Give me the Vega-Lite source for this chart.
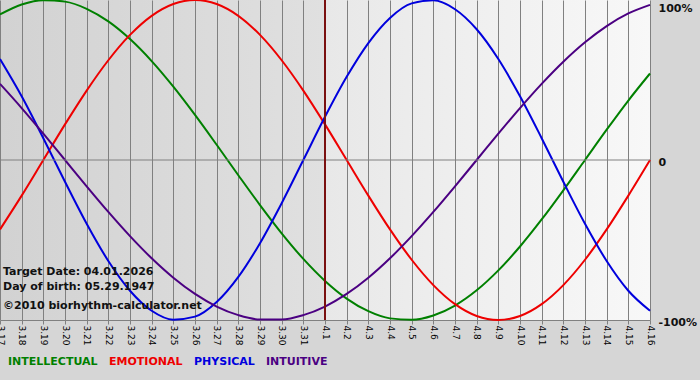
{
  "$schema": "https://vega.github.io/schema/vega-lite/v6.json",
  "width": 650,
  "height": 320,
  "autosize": {"type": "none"},
  "padding": {"left": 0, "top": 0, "right": 50, "bottom": 60},
  "background": "#d6d6d6",
  "config": {
    "font": "DejaVu Sans",
    "view": {
      "stroke": null,
      "fill": {
        "gradient": "linear",
        "x1": 0, "y1": 0, "x2": 1, "y2": 0,
        "stops": [
          {"offset": 0, "color": "#d2d2d2"},
          {"offset": 0.5, "color": "#e0e0e0"},
          {"offset": 0.5, "color": "#e8e8e8"},
          {"offset": 1, "color": "#f8f8f8"}
        ]
      }
    }
  },
  "data": {
    "values": [
      {"date": "2026-03-17", "INTELLECTUAL": 0.9096, "EMOTIONAL": -0.4339, "PHYSICAL": 0.6311, "INTUITIVE": 0.4759},
      {"date": "2026-03-18", "INTELLECTUAL": 0.9718, "EMOTIONAL": -0.2225, "PHYSICAL": 0.3984, "INTUITIVE": 0.3247},
      {"date": "2026-03-19", "INTELLECTUAL": 0.9989, "EMOTIONAL": 0, "PHYSICAL": 0.1362, "INTUITIVE": 0.1646},
      {"date": "2026-03-20", "INTELLECTUAL": 0.9898, "EMOTIONAL": 0.2225, "PHYSICAL": -0.1362, "INTUITIVE": 0},
      {"date": "2026-03-21", "INTELLECTUAL": 0.9450, "EMOTIONAL": 0.4339, "PHYSICAL": -0.3984, "INTUITIVE": -0.1646},
      {"date": "2026-03-22", "INTELLECTUAL": 0.8660, "EMOTIONAL": 0.6235, "PHYSICAL": -0.6311, "INTUITIVE": -0.3247},
      {"date": "2026-03-23", "INTELLECTUAL": 0.7557, "EMOTIONAL": 0.7818, "PHYSICAL": -0.8170, "INTUITIVE": -0.4759},
      {"date": "2026-03-24", "INTELLECTUAL": 0.6182, "EMOTIONAL": 0.9010, "PHYSICAL": -0.9423, "INTUITIVE": -0.6142},
      {"date": "2026-03-25", "INTELLECTUAL": 0.4582, "EMOTIONAL": 0.9749, "PHYSICAL": -0.9977, "INTUITIVE": -0.7357},
      {"date": "2026-03-26", "INTELLECTUAL": 0.2817, "EMOTIONAL": 1, "PHYSICAL": -0.9791, "INTUITIVE": -0.8372},
      {"date": "2026-03-27", "INTELLECTUAL": 0.0951, "EMOTIONAL": 0.9749, "PHYSICAL": -0.8880, "INTUITIVE": -0.9158},
      {"date": "2026-03-28", "INTELLECTUAL": -0.0951, "EMOTIONAL": 0.9010, "PHYSICAL": -0.7308, "INTUITIVE": -0.9694},
      {"date": "2026-03-29", "INTELLECTUAL": -0.2817, "EMOTIONAL": 0.7818, "PHYSICAL": -0.5196, "INTUITIVE": -0.9966},
      {"date": "2026-03-30", "INTELLECTUAL": -0.4582, "EMOTIONAL": 0.6235, "PHYSICAL": -0.2698, "INTUITIVE": -0.9966},
      {"date": "2026-03-31", "INTELLECTUAL": -0.6182, "EMOTIONAL": 0.4339, "PHYSICAL": 0, "INTUITIVE": -0.9694},
      {"date": "2026-04-01", "INTELLECTUAL": -0.7557, "EMOTIONAL": 0.2225, "PHYSICAL": 0.2698, "INTUITIVE": -0.9158},
      {"date": "2026-04-02", "INTELLECTUAL": -0.8660, "EMOTIONAL": 0, "PHYSICAL": 0.5196, "INTUITIVE": -0.8372},
      {"date": "2026-04-03", "INTELLECTUAL": -0.9450, "EMOTIONAL": -0.2225, "PHYSICAL": 0.7308, "INTUITIVE": -0.7357},
      {"date": "2026-04-04", "INTELLECTUAL": -0.9898, "EMOTIONAL": -0.4339, "PHYSICAL": 0.8880, "INTUITIVE": -0.6142},
      {"date": "2026-04-05", "INTELLECTUAL": -0.9989, "EMOTIONAL": -0.6235, "PHYSICAL": 0.9791, "INTUITIVE": -0.4759},
      {"date": "2026-04-06", "INTELLECTUAL": -0.9718, "EMOTIONAL": -0.7818, "PHYSICAL": 0.9977, "INTUITIVE": -0.3247},
      {"date": "2026-04-07", "INTELLECTUAL": -0.9096, "EMOTIONAL": -0.9010, "PHYSICAL": 0.9423, "INTUITIVE": -0.1646},
      {"date": "2026-04-08", "INTELLECTUAL": -0.8146, "EMOTIONAL": -0.9749, "PHYSICAL": 0.8170, "INTUITIVE": 0},
      {"date": "2026-04-09", "INTELLECTUAL": -0.6901, "EMOTIONAL": -1, "PHYSICAL": 0.6311, "INTUITIVE": 0.1646},
      {"date": "2026-04-10", "INTELLECTUAL": -0.5406, "EMOTIONAL": -0.9749, "PHYSICAL": 0.3984, "INTUITIVE": 0.3247},
      {"date": "2026-04-11", "INTELLECTUAL": -0.3717, "EMOTIONAL": -0.9010, "PHYSICAL": 0.1362, "INTUITIVE": 0.4759},
      {"date": "2026-04-12", "INTELLECTUAL": -0.1893, "EMOTIONAL": -0.7818, "PHYSICAL": -0.1362, "INTUITIVE": 0.6142},
      {"date": "2026-04-13", "INTELLECTUAL": 0, "EMOTIONAL": -0.6235, "PHYSICAL": -0.3984, "INTUITIVE": 0.7357},
      {"date": "2026-04-14", "INTELLECTUAL": 0.1893, "EMOTIONAL": -0.4339, "PHYSICAL": -0.6311, "INTUITIVE": 0.8372},
      {"date": "2026-04-15", "INTELLECTUAL": 0.3717, "EMOTIONAL": -0.2225, "PHYSICAL": -0.8170, "INTUITIVE": 0.9158},
      {"date": "2026-04-16", "INTELLECTUAL": 0.5406, "EMOTIONAL": 0, "PHYSICAL": -0.9423, "INTUITIVE": 0.9694}
    ]
  },
  "layer": [
    {
      "transform": [{"fold": ["INTELLECTUAL", "EMOTIONAL", "PHYSICAL", "INTUITIVE"], "as": ["cycle", "value"]}],
      "mark": {"type": "line", "strokeWidth": 2, "interpolate": "monotone", "clip": false},
      "encoding": {
        "x": {
          "field": "date",
          "type": "temporal",
          "scale": {
            "type": "utc",
            "domain": [
              {"year": 2026, "month": 3, "date": 17, "utc": true},
              {"year": 2026, "month": 4, "date": 16, "utc": true}
            ]
          },
          "axis": {
            "title": null,
            "labelExpr": "utcFormat(datum.value, '%-m.%-d')",
            "tickCount": {"interval": "day", "step": 1},
            "labelAngle": 90,
            "labelFont": "DejaVu Sans",
            "labelFontSize": 9,
            "labelColor": "#000000",
            "labelPadding": 1,
            "labelOverlap": false,
            "labelFlush": false,
            "labelBound": false,
            "grid": true,
            "gridColor": "#808080",
            "gridOpacity": 1,
            "gridWidth": 1,
            "domain": true,
            "domainColor": "#808080",
            "domainWidth": 1,
            "ticks": true,
            "tickColor": "#808080",
            "tickSize": 4,
            "zindex": 0
          }
        },
        "y": {
          "field": "value",
          "type": "quantitative",
          "scale": {"domain": [-1, 1], "nice": false, "zero": false},
          "axis": {
            "title": null,
            "orient": "right",
            "values": [-1, 0, 1],
            "labelExpr": "datum.value == 1 ? '100%' : (datum.value == -1 ? '-100%' : '0')",
            "grid": false,
            "domain": false,
            "ticks": false,
            "labelPadding": 8,
            "labelFont": "DejaVu Sans",
            "labelFontWeight": "bold",
            "labelFontSize": 11,
            "labelColor": "#111111",
            "labelBaseline": {"condition": {"test": "datum.value == 1", "value": "top"}, "value": "middle"},
            "labelOffset": 2
          }
        },
        "color": {
          "field": "cycle",
          "type": "nominal",
          "scale": {
            "domain": ["INTELLECTUAL", "EMOTIONAL", "PHYSICAL", "INTUITIVE"],
            "range": ["#008000", "#ee0000", "#0000dd", "#4b0082"]
          },
          "legend": {
            "title": null,
            "orient": "none",
            "legendX": -3,
            "legendY": 356,
            "direction": "horizontal",
            "symbolSize": 0,
            "symbolStrokeWidth": 0,
            "symbolOpacity": 0,
            "labelOffset": 0,
            "columnPadding": -5,
            "labelFont": "DejaVu Sans",
            "labelFontWeight": "bold",
            "labelFontSize": 11,
            "encode": {
              "labels": {"update": {"fill": {"scale": "color", "field": "value"}}}
            }
          }
        }
      }
    },
    {
      "data": {"values": [{"level": 0}]},
      "mark": {"type": "rule", "color": "#808080", "strokeWidth": 1},
      "encoding": {"y": {"field": "level", "type": "quantitative"}}
    },
    {
      "data": {"values": [{"date": "2026-04-01"}]},
      "mark": {"type": "rule", "color": "#7a1010", "strokeWidth": 2},
      "encoding": {"x": {"field": "date", "type": "temporal"}}
    },
    {
      "data": {"values": [{"date": "2026-03-17", "label": "Target Date: 04.01.2026"}]},
      "mark": {"type": "text", "align": "left", "baseline": "middle", "dx": 3, "font": "DejaVu Sans", "fontWeight": "bold", "fontSize": 11, "color": "#111111"},
      "encoding": {"x": {"field": "date", "type": "temporal"}, "y": {"datum": -0.7}, "text": {"field": "label"}}
    },
    {
      "data": {"values": [{"date": "2026-03-17", "label": "Day of birth: 05.29.1947"}]},
      "mark": {"type": "text", "align": "left", "baseline": "middle", "dx": 3, "font": "DejaVu Sans", "fontWeight": "bold", "fontSize": 11, "color": "#111111"},
      "encoding": {"x": {"field": "date", "type": "temporal"}, "y": {"datum": -0.794}, "text": {"field": "label"}}
    },
    {
      "data": {"values": [{"date": "2026-03-17", "label": "©2010 biorhythm-calculator.net"}]},
      "mark": {"type": "text", "align": "left", "baseline": "middle", "dx": 3, "font": "DejaVu Sans", "fontWeight": "bold", "fontSize": 11, "color": "#111111"},
      "encoding": {"x": {"field": "date", "type": "temporal"}, "y": {"datum": -0.9125}, "text": {"field": "label"}}
    }
  ]
}
